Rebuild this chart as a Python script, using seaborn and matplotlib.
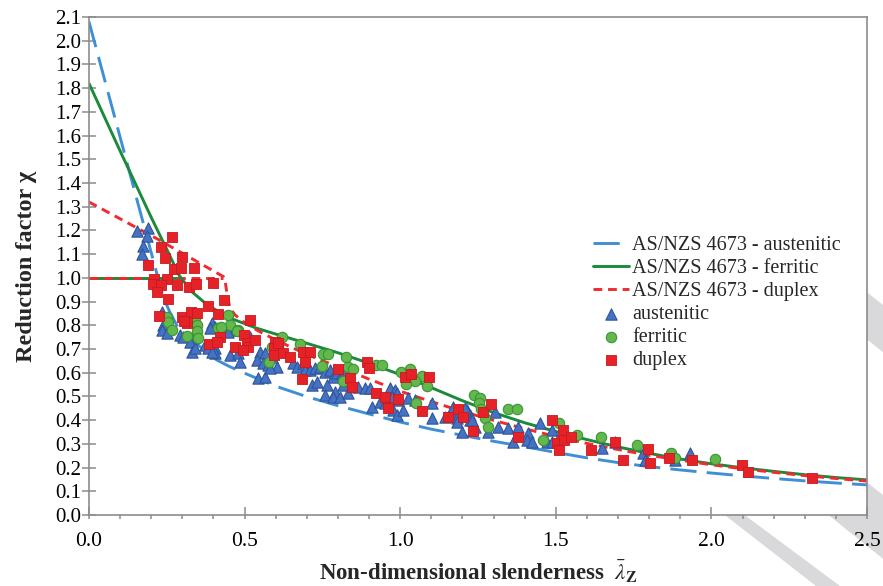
import numpy as np
import pandas as pd
import matplotlib
matplotlib.use("Agg")
import matplotlib.pyplot as plt
from matplotlib.patches import Polygon
from matplotlib.ticker import MultipleLocator
import seaborn as sns

# ---------------- data ----------------
# design curves AS/NZS 4673
aus_curve_x = [0.0, 0.10, 0.20, 0.238, 0.26, 0.29, 0.32, 0.357, 0.41, 0.45, 0.50, 0.60, 0.70, 0.80,
               0.90, 1.00, 1.10, 1.20, 1.30, 1.40, 1.50, 1.60, 1.70, 1.80, 1.90, 2.00, 2.10, 2.20,
               2.30, 2.40, 2.50]
aus_curve_y = [2.08, 1.593, 1.106, 0.92, 0.855, 0.78, 0.74, 0.71, 0.654, 0.627, 0.598, 0.543, 0.499,
               0.461, 0.426, 0.392, 0.362, 0.336, 0.311, 0.288, 0.264, 0.241, 0.221, 0.204, 0.190,
               0.177, 0.165, 0.154, 0.144, 0.135, 0.127]

fer_curve_x = [0.0, 0.10, 0.20, 0.25, 0.29, 0.33, 0.38, 0.45, 0.54, 0.60, 0.70, 0.80, 0.90, 1.00,
               1.10, 1.20, 1.30, 1.40, 1.50, 1.60, 1.70, 1.80, 1.90, 2.00, 2.10, 2.20, 2.30, 2.40,
               2.50]
fer_curve_y = [1.82, 1.535, 1.255, 1.12, 1.01, 0.942, 0.886, 0.832, 0.787, 0.763, 0.724, 0.684,
               0.640, 0.592, 0.537, 0.482, 0.432, 0.389, 0.352, 0.318, 0.287, 0.260, 0.236, 0.216,
               0.199, 0.184, 0.170, 0.158, 0.148]
fer_plateau_x = [0.0, 0.29]
fer_plateau_y = [1.0, 1.0]

dup_curve_x = [0.0, 0.217, 0.432, 0.437, 0.444, 0.453, 0.469, 0.496, 0.539, 0.60, 0.70, 0.80, 0.90,
               1.00, 1.10, 1.20, 1.30, 1.40, 1.50, 1.60, 1.70, 1.80, 1.90, 2.00, 2.10, 2.20, 2.30,
               2.40, 2.50]
dup_curve_y = [1.32, 1.166, 1.005, 0.991, 0.928, 0.872, 0.844, 0.815, 0.780, 0.738, 0.677, 0.625,
               0.573, 0.522, 0.478, 0.437, 0.399, 0.364, 0.331, 0.302, 0.276, 0.252, 0.231, 0.212,
               0.195, 0.180, 0.166, 0.154, 0.143]
dup_plateau_x = [0.0, 0.432]
dup_plateau_y = [1.0, 1.0]

# test results
aus_x = [0.155, 0.19, 0.185, 0.172, 0.169, 0.236,
         0.237, 0.244, 0.234, 0.250, 0.292, 0.303, 0.335, 0.325, 0.330, 0.341, 0.394, 0.405,
         0.389, 0.453, 0.469, 0.448, 0.373, 0.383, 0.405, 0.405, 0.394, 0.453, 0.480, 0.485,
         0.517, 0.549, 0.539, 0.566, 0.560, 0.576, 0.544, 0.566, 0.603, 0.587,
         0.582, 0.655, 0.669, 0.689, 0.694, 0.710, 0.726, 0.742, 0.758, 0.716, 0.732, 0.774,
         0.785, 0.796, 0.812, 0.823, 0.828, 0.764, 0.817, 0.790, 0.758, 0.785, 0.807, 0.833,
         0.865, 0.887, 0.903, 0.908, 0.935, 0.951, 0.978, 0.989, 0.967, 0.983,
         0.989, 0.973, 0.994, 1.010, 1.026, 1.048, 1.101, 1.101, 1.144, 1.160, 1.171, 1.181,
         1.197, 1.214, 1.224, 1.181, 1.224, 1.240, 1.197, 1.305, 1.315, 1.347, 1.283, 1.380,
         1.171, 1.208, 1.230,
         1.364, 1.412, 1.406, 1.422, 1.449, 1.487, 1.471, 1.487, 1.647, 1.690, 1.781, 1.787,
         1.883, 1.931]
aus_y = [1.198, 1.209, 1.178, 1.136, 1.100, 0.858,
         0.801, 0.787, 0.780, 0.766, 0.759, 0.752, 0.745, 0.731, 0.689, 0.703, 0.808, 0.794,
         0.787, 0.801, 0.780, 0.773, 0.717, 0.703, 0.703, 0.682, 0.689, 0.675, 0.682, 0.647,
         0.752, 0.689, 0.654, 0.682, 0.640, 0.633, 0.577, 0.583, 0.626, 0.668,
         0.619, 0.642, 0.626, 0.640, 0.612, 0.612, 0.619, 0.626, 0.605, 0.548, 0.562, 0.612,
         0.583, 0.598, 0.598, 0.612, 0.583, 0.548, 0.548, 0.520, 0.506, 0.499, 0.499, 0.513,
         0.541, 0.534, 0.534, 0.457, 0.478, 0.471, 0.443, 0.422, 0.534, 0.527,
         0.513, 0.499, 0.485, 0.443, 0.492, 0.485, 0.471, 0.408, 0.415, 0.422, 0.443, 0.408,
         0.422, 0.443, 0.422, 0.394, 0.401, 0.370, 0.351, 0.436, 0.370, 0.366, 0.351, 0.370,
         0.457, 0.450, 0.401,
         0.309, 0.347, 0.316, 0.309, 0.387, 0.358, 0.309, 0.309, 0.281, 0.309, 0.260, 0.232,
         0.232, 0.260]

fer_x = [0.250, 0.255, 0.266, 0.341, 0.346, 0.346, 0.416, 0.448, 0.453, 0.480, 0.314, 0.349,
         0.423, 0.477, 0.579, 0.587, 0.608,
         0.619, 0.678, 0.753, 0.769, 0.826, 0.748, 0.833, 0.847, 0.817, 0.922, 0.941, 1.003,
         1.031, 1.069, 1.048, 1.019, 1.087, 1.051, 1.237, 1.256, 1.254, 1.259, 1.272, 1.283,
         1.347, 1.374,
         1.511, 1.460, 1.567, 1.644, 1.760, 1.870, 1.883, 2.012]
fer_y = [0.836, 0.815, 0.780, 0.830, 0.801, 0.776, 0.787, 0.843, 0.801, 0.780, 0.755, 0.745,
         0.792, 0.777, 0.647, 0.710, 0.710,
         0.749, 0.721, 0.679, 0.679, 0.665, 0.628, 0.626, 0.614, 0.566, 0.633, 0.633, 0.604,
         0.614, 0.586, 0.566, 0.552, 0.544, 0.471, 0.506, 0.492, 0.471, 0.446, 0.408, 0.372,
         0.446, 0.446,
         0.387, 0.316, 0.337, 0.328, 0.295, 0.263, 0.239, 0.235]

dup_x = [0.268, 0.230, 0.244, 0.300, 0.189, 0.274, 0.295, 0.338, 0.210, 0.250, 0.205, 0.230,
         0.282, 0.322, 0.343, 0.400, 0.219, 0.255, 0.435, 0.381, 0.416, 0.226, 0.298, 0.314,
         0.328, 0.346, 0.305,
         0.517, 0.421, 0.387, 0.410, 0.469, 0.499, 0.507, 0.510, 0.496, 0.533, 0.598, 0.594,
         0.594, 0.608, 0.622, 0.646, 0.687, 0.710, 0.694, 0.685, 0.801, 0.839, 0.846, 0.894,
         0.900, 0.922, 0.951, 0.994, 0.960, 1.015, 1.034, 1.094, 1.069, 1.187, 1.153, 1.201,
         1.235, 1.267, 1.291, 1.380, 1.489, 1.522, 1.503, 1.526, 1.511, 1.549, 1.613, 1.690,
         1.717, 1.797, 1.803, 1.865, 1.937, 2.097, 2.119, 2.324]
dup_y = [1.171, 1.129, 1.083, 1.087, 1.054, 1.036, 1.040, 1.040, 0.995, 0.995, 0.974, 0.970,
         0.970, 0.963, 0.974, 0.980, 0.939, 0.910, 0.907, 0.883, 0.847, 0.839, 0.836, 0.808,
         0.857, 0.851, 0.820,
         0.822, 0.752, 0.720, 0.728, 0.710, 0.759, 0.724, 0.707, 0.696, 0.738, 0.728, 0.703,
         0.675, 0.724, 0.685, 0.668, 0.686, 0.689, 0.647, 0.574, 0.615, 0.577, 0.539, 0.647,
         0.619, 0.513, 0.499, 0.489, 0.450, 0.581, 0.595, 0.581, 0.440, 0.447, 0.412, 0.412,
         0.356, 0.433, 0.468, 0.330, 0.401, 0.358, 0.305, 0.316, 0.274, 0.330, 0.274, 0.309,
         0.232, 0.277, 0.218, 0.239, 0.232, 0.211, 0.183, 0.157]

x_ticks = [0.0, 0.5, 1.0, 1.5, 2.0, 2.5]
y_ticks = [round(0.1 * i, 1) for i in range(22)]

# ---------------- styling ----------------
sns.set_theme(style="white")
plt.rcParams["font.family"] = ["Liberation Serif", "DejaVu Serif"]
plt.rcParams["mathtext.fontset"] = "stix"

C_AUS_LINE = "#3f8fd6"
C_FER_LINE = "#1b8a3a"
C_DUP_LINE = "#f02a2e"
C_SPINE = "#8c8c8c"

W, H = 883, 586
fig = plt.figure(figsize=(W / 100, H / 100), dpi=100)
fig.patch.set_facecolor("white")
ax = fig.add_axes([89 / W, 1 - 515 / H, (867 - 89) / W, (515 - 17) / H])
ax.set_facecolor("white")

# watermark bands (behind the axes)
def px_poly(pts):
    return [(px / W, 1 - py / H) for px, py in pts]

band_col = "#d9d9db"
for pts in [
    [(577, 400), (590, 400), (840, 586), (816, 586)],
    [(685, 400), (764, 400), (997, 586), (917, 586)],
    [(684, 193), (743, 193), (993, 393), (934, 393)],
]:
    fig.patches.append(Polygon(px_poly(pts), closed=True, transform=fig.transFigure,
                               facecolor=band_col, edgecolor="none", zorder=-5))

lw = 2.1
# plateaus (no legend)
sns.lineplot(x=fer_plateau_x, y=fer_plateau_y, ax=ax, color=C_FER_LINE, linewidth=lw,
             estimator=None, sort=False, legend=False)
sns.lineplot(x=dup_plateau_x, y=dup_plateau_y, ax=ax, color=C_DUP_LINE, linewidth=lw,
             estimator=None, sort=False, legend=False, linestyle=(0, (3, 2)))

sns.lineplot(x=aus_curve_x, y=aus_curve_y, ax=ax, color=C_AUS_LINE, linewidth=lw,
             estimator=None, sort=False, linestyle=(0, (9, 3.5)),
             label="AS/NZS 4673 - austenitic")
sns.lineplot(x=fer_curve_x, y=fer_curve_y, ax=ax, color=C_FER_LINE, linewidth=lw,
             estimator=None, sort=False, label="AS/NZS 4673 - ferritic")
sns.lineplot(x=dup_curve_x, y=dup_curve_y, ax=ax, color=C_DUP_LINE, linewidth=lw,
             estimator=None, sort=False, linestyle=(0, (3, 2)),
             label="AS/NZS 4673 - duplex")

sns.scatterplot(x=aus_x, y=aus_y, ax=ax, marker="^", s=66, color="#4472c4",
                edgecolor="#2f5597", linewidth=0.8, label="austenitic", zorder=3)
sns.scatterplot(x=fer_x, y=fer_y, ax=ax, marker="o", s=56, color="#62b84c",
                edgecolor="#3a9433", linewidth=0.8, label="ferritic", zorder=3)
sns.scatterplot(x=dup_x, y=dup_y, ax=ax, marker="s", s=48, color="#e52228",
                edgecolor="#c8191e", linewidth=0.6, label="duplex", zorder=3)

ax.set_xlim(0, 2.5)
ax.set_ylim(0, 2.1)
ax.set_xticks(x_ticks)
ax.set_xticklabels([f"{v:.1f}" for v in x_ticks])
ax.set_yticks(y_ticks)
ax.set_yticklabels([f"{v:.1f}" for v in y_ticks])
ax.xaxis.set_minor_locator(MultipleLocator(0.1))
ax.xaxis.remove_overlapping_locs = False

for s in ax.spines.values():
    s.set_visible(True)
    s.set_color(C_SPINE)
    s.set_linewidth(1.2)

ax.tick_params(axis="x", which="major", direction="in", length=5.8, width=1.1,
               color=C_SPINE, labelsize=15.5, labelcolor="black", pad=12, bottom=True)
ax.tick_params(axis="x", which="minor", direction="out", length=3.0, width=1.1,
               color=C_SPINE, bottom=True)
ax.tick_params(axis="y", which="major", direction="inout", length=9.4, width=1.1,
               color=C_SPINE, labelsize=15, labelcolor="black", pad=1, left=True)

ax.set_xlabel(r"Non-dimensional slenderness  $\bar{\lambda}_{\mathbf{Z}}$",
              fontsize=16.5, fontweight="bold", labelpad=6)
ax.set_ylabel("Reduction factor χ", fontsize=17.5, fontweight="bold", labelpad=13)

leg = ax.legend(loc="upper left", bbox_to_anchor=((593 - 89) / 778, (515 - 235.5) / 498),
                frameon=False, fontsize=14.5, handlelength=1.8, handletextpad=0.15,
                labelspacing=0.2, borderpad=0, borderaxespad=0)

fig.savefig("out.png", dpi=100, facecolor="white")
